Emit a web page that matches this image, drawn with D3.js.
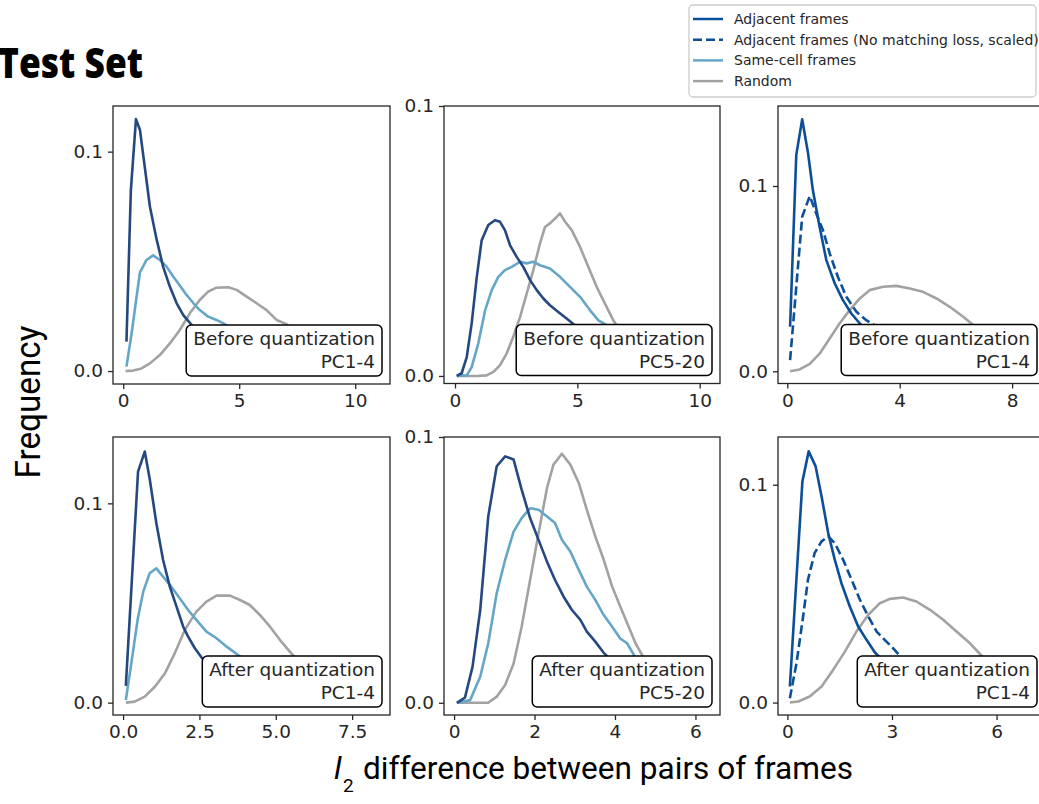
<!DOCTYPE html>
<html>
<head>
<meta charset="utf-8">
<script src="https://cdn.jsdelivr.net/npm/d3@7"></script>
<style>
  body { margin: 0; background: #fff; }
  svg { display: block; }
</style>
</head>
<body>
<script>
// series, [x, frequency]
const beforePc14Adjacent = [[0.14,0.0134],[0.33,0.0825],[0.55,0.1148],[0.72,0.110],[0.93,0.093],[1.15,0.075],[1.44,0.060],[1.72,0.0476],[2.01,0.0385],[2.30,0.031],[2.59,0.0255],[2.92,0.0214],[3.3,0.017],[4.0,0.011],[5.0,0.006],[6.0,0.003]];
const beforePc14SameCell = [[0.14,0.002],[0.36,0.017],[0.72,0.045],[1.0,0.0506],[1.29,0.0527],[1.58,0.0506],[1.87,0.0476],[2.16,0.043],[2.44,0.039],[2.73,0.0347],[3.02,0.031],[3.3,0.0278],[3.66,0.0248],[4.02,0.0233],[4.38,0.0214],[5.0,0.016],[6.0,0.01],[7.0,0.005]];
const beforePc14Random = [[0.1,0.0],[0.43,0.0002],[0.79,0.0012],[1.15,0.0035],[1.58,0.0073],[2.01,0.0126],[2.44,0.0187],[2.87,0.0263],[3.3,0.0324],[3.66,0.0362],[4.02,0.038],[4.53,0.0382],[4.89,0.037],[5.32,0.0339],[5.75,0.0309],[6.18,0.0278],[6.61,0.0233],[7.04,0.0214],[7.5,0.017],[8.5,0.010],[9.5,0.005],[10.9,0.002]];

const beforePc520Adjacent = [[0.07,0.0],[0.27,0.001],[0.48,0.007],[0.68,0.0194],[0.89,0.0367],[1.09,0.0503],[1.36,0.0559],[1.63,0.0577],[1.84,0.0571],[2.04,0.054],[2.25,0.0484],[2.52,0.0441],[2.79,0.0404],[3.07,0.0355],[3.34,0.0318],[3.61,0.0287],[3.88,0.0262],[4.22,0.0237],[4.56,0.0213],[4.9,0.0188],[5.5,0.013],[6.5,0.007],[8.0,0.002]];
const beforePc520SameCell = [[0.07,0.0],[0.48,0.0002],[0.68,0.0033],[0.95,0.012],[1.23,0.0243],[1.5,0.0318],[1.77,0.0367],[2.04,0.0392],[2.32,0.0404],[2.66,0.0423],[2.93,0.0417],[3.2,0.0423],[3.47,0.041],[3.88,0.0398],[4.29,0.0367],[4.7,0.033],[5.11,0.0293],[5.52,0.0243],[5.86,0.0206],[6.2,0.0188],[7.0,0.011],[8.5,0.004]];
const beforePc520Random = [[0.07,0.0],[0.89,0.0],[1.29,0.0002],[1.57,0.0015],[1.84,0.004],[2.11,0.0083],[2.38,0.0145],[2.66,0.0219],[2.93,0.0305],[3.2,0.0392],[3.47,0.049],[3.68,0.0552],[3.88,0.0565],[4.09,0.0583],[4.29,0.0602],[4.5,0.0571],[4.77,0.054],[5.11,0.0478],[5.45,0.0404],[5.79,0.033],[6.13,0.0268],[6.47,0.0206],[6.6,0.0188],[7.5,0.009],[9.0,0.002]];

const beforeModelAdjacent = [[0.1,0.024],[0.32,0.1168],[0.53,0.136],[0.74,0.1177],[0.91,0.0978],[1.15,0.078],[1.39,0.060],[1.69,0.0474],[1.98,0.0384],[2.28,0.0312],[2.58,0.0258],[2.81,0.0225],[3.3,0.016],[4.0,0.010],[5.0,0.005]];
const beforeModelNoMatching = [[0.1,0.006],[0.22,0.0275],[0.53,0.0834],[0.8,0.0946],[1.03,0.0852],[1.27,0.0762],[1.51,0.0636],[1.8,0.051],[2.1,0.0402],[2.46,0.0321],[2.81,0.0276],[3.17,0.0243],[3.8,0.017],[4.6,0.011],[5.5,0.006]];
const beforeModelRandom = [[0.1,0.0],[0.44,0.001],[0.8,0.004],[1.15,0.0095],[1.51,0.0177],[1.86,0.0258],[2.22,0.033],[2.58,0.0393],[2.93,0.0438],[3.41,0.0456],[3.88,0.0461],[4.36,0.0447],[4.83,0.0429],[5.31,0.0393],[5.78,0.0348],[6.26,0.0294],[6.67,0.0243],[7.3,0.017],[8.0,0.010],[8.7,0.005]];

const afterPc14Adjacent = [[0.09,0.0084],[0.49,0.1159],[0.71,0.126],[0.87,0.1125],[1.09,0.090],[1.31,0.0716],[1.53,0.0582],[1.75,0.0482],[1.97,0.0381],[2.13,0.0331],[2.35,0.0273],[2.57,0.0226],[3.0,0.016],[3.6,0.010],[4.5,0.005]];
const afterPc14SameCell = [[0.09,0.0013],[0.27,0.0197],[0.48,0.042],[0.66,0.0557],[0.87,0.0649],[1.09,0.0674],[1.31,0.0632],[1.58,0.0582],[1.86,0.0523],[2.13,0.0465],[2.4,0.0415],[2.73,0.0356],[3.06,0.0323],[3.39,0.0281],[3.66,0.0251],[3.88,0.0226],[4.5,0.016],[5.5,0.008]];
const afterPc14Random = [[0.09,0.0],[0.38,0.0005],[0.71,0.003],[1.04,0.008],[1.37,0.0147],[1.69,0.0247],[2.02,0.0365],[2.4,0.0457],[2.73,0.0507],[3.06,0.0537],[3.5,0.0537],[3.83,0.0515],[4.15,0.049],[4.48,0.044],[4.81,0.0381],[5.14,0.0314],[5.46,0.0256],[5.63,0.0226],[6.3,0.014],[7.2,0.007],[8.2,0.003]];

const afterPc520Adjacent = [[0.07,0.0],[0.27,0.0019],[0.46,0.0136],[0.65,0.0349],[0.85,0.0701],[1.06,0.089],[1.27,0.0927],[1.48,0.0915],[1.68,0.0802],[1.89,0.0695],[2.1,0.0613],[2.31,0.0531],[2.51,0.0462],[2.72,0.040],[2.93,0.0349],[3.14,0.0312],[3.3,0.0268],[3.51,0.023],[3.72,0.0188],[3.84,0.017],[4.3,0.011],[5.0,0.005]];
const afterPc520SameCell = [[0.07,0.0],[0.4,0.001],[0.65,0.0098],[0.85,0.0224],[1.06,0.0412],[1.27,0.0538],[1.48,0.0644],[1.68,0.0695],[1.89,0.0732],[2.1,0.0726],[2.31,0.0701],[2.51,0.0676],[2.68,0.0613],[2.89,0.0569],[3.1,0.050],[3.3,0.0437],[3.51,0.0387],[3.72,0.033],[3.93,0.0286],[4.13,0.0242],[4.3,0.0224],[4.51,0.017],[5.0,0.010],[5.8,0.004]];
const afterPc520Random = [[0.07,0.0],[0.85,0.0],[1.06,0.0023],[1.27,0.0067],[1.48,0.0148],[1.68,0.0286],[1.89,0.0462],[2.1,0.0638],[2.31,0.0808],[2.47,0.0896],[2.68,0.0937],[2.89,0.0896],[3.1,0.0827],[3.3,0.0726],[3.51,0.0626],[3.72,0.0538],[3.93,0.0437],[4.13,0.0362],[4.34,0.0286],[4.51,0.0224],[4.71,0.017],[5.2,0.009],[6.0,0.003]];

const afterModelAdjacent = [[0.07,0.0074],[0.43,0.1015],[0.61,0.1153],[0.81,0.1084],[0.98,0.0946],[1.17,0.0778],[1.36,0.0655],[1.55,0.0548],[1.79,0.0441],[2.03,0.0349],[2.27,0.0288],[2.51,0.023],[2.65,0.0207],[3.2,0.014],[4.0,0.008],[5.0,0.004]];
const afterModelNoMatching = [[0.07,0.002],[0.26,0.018],[0.45,0.0395],[0.59,0.0564],[0.78,0.0686],[0.98,0.074],[1.17,0.0763],[1.36,0.0732],[1.6,0.0655],[1.84,0.0564],[2.08,0.0472],[2.32,0.0395],[2.56,0.0326],[2.79,0.0288],[3.03,0.025],[3.27,0.0207],[3.8,0.015],[4.6,0.009],[5.5,0.004]];
const afterModelRandom = [[0.07,0.0],[0.31,0.0005],[0.64,0.0028],[0.98,0.0074],[1.31,0.015],[1.65,0.0234],[1.98,0.0326],[2.32,0.0403],[2.65,0.0456],[2.94,0.0476],[3.32,0.0482],[3.7,0.0464],[4.09,0.0426],[4.47,0.038],[4.85,0.0326],[5.23,0.0273],[5.62,0.0207],[6.2,0.013],[6.9,0.007]];

const yTicks = [0, 0.1];
const xTicksBefore = [0, 5, 10];
const xTicksModelBefore = [0, 4, 8];
const xTicksAfterPc14 = [0, 2.5, 5, 7.5];
const xTicksAfterPc520 = [0, 2, 4, 6];
const xTicksModelAfter = [0, 3, 6];

const legendLabels = ['Adjacent frames', 'Adjacent frames (No matching loss, scaled)', 'Same-cell frames', 'Random'];

const NAVY = '#24487f';
const BLUE = '#0c4f98';
const LIGHT = '#65a6c7';
const GRAY = '#a2a2a2';
const INK = '#262626';
const TICK_FONT = 'DejaVu Sans, sans-serif';

const panels = [
  { left: 113, top: 106, right: 390, bottom: 384, xDomain: [-0.44, 11.5], yDomain: [-0.0059, 0.1208],
    xTicks: xTicksBefore, xFmt: d3.format('d'), text: ['Before quantization', 'PC1-4'],
    lines: [
      { data: beforePc14Random, color: GRAY },
      { data: beforePc14SameCell, color: LIGHT },
      { data: beforePc14Adjacent, color: NAVY },
    ] },
  { left: 444, top: 106, right: 720, bottom: 383.5, xDomain: [-0.45, 10.83], yDomain: [-0.0028, 0.1],
    xTicks: xTicksBefore, xFmt: d3.format('d'), text: ['Before quantization', 'PC5-20'],
    lines: [
      { data: beforePc520Random, color: GRAY },
      { data: beforePc520SameCell, color: LIGHT },
      { data: beforePc520Adjacent, color: NAVY },
    ] },
  { left: 778, top: 106, right: 1045, bottom: 383.5, xDomain: [-0.33, 9.17], yDomain: [-0.0066, 0.1432],
    xTicks: xTicksModelBefore, xFmt: d3.format('d'), text: ['Before quantization', 'PC1-4'],
    lines: [
      { data: beforeModelRandom, color: GRAY },
      { data: beforeModelNoMatching, color: BLUE, dash: '9,4' },
      { data: beforeModelAdjacent, color: BLUE },
    ] },
  { left: 113, top: 437, right: 390, bottom: 715, xDomain: [-0.33, 8.74], yDomain: [-0.0062, 0.1333],
    xTicks: xTicksAfterPc14, xFmt: d3.format('.1f'), text: ['After quantization', 'PC1-4'],
    lines: [
      { data: afterPc14Random, color: GRAY },
      { data: afterPc14SameCell, color: LIGHT },
      { data: afterPc14Adjacent, color: NAVY },
    ] },
  { left: 444, top: 437, right: 720, bottom: 715, xDomain: [-0.25, 6.61], yDomain: [-0.0046, 0.1],
    xTicks: xTicksAfterPc520, xFmt: d3.format('d'), text: ['After quantization', 'PC5-20'],
    lines: [
      { data: afterPc520Random, color: GRAY },
      { data: afterPc520SameCell, color: LIGHT },
      { data: afterPc520Adjacent, color: NAVY },
    ] },
  { left: 778, top: 437, right: 1045, bottom: 715, xDomain: [-0.27, 7.39], yDomain: [-0.0057, 0.1219],
    xTicks: xTicksModelAfter, xFmt: d3.format('d'), text: ['After quantization', 'PC1-4'],
    lines: [
      { data: afterModelRandom, color: GRAY },
      { data: afterModelNoMatching, color: BLUE, dash: '9,4' },
      { data: afterModelAdjacent, color: BLUE },
    ] },
];

const svg = d3.select('body').append('svg')
  .attr('width', 1039)
  .attr('height', 804);

panels.forEach((p, i) => {
  const x = d3.scaleLinear().domain(p.xDomain).range([p.left, p.right]);
  const y = d3.scaleLinear().domain(p.yDomain).range([p.bottom, p.top]);
  const g = svg.append('g');

  g.append('clipPath').attr('id', `clip${i}`)
    .append('rect')
    .attr('x', p.left).attr('y', p.top)
    .attr('width', p.right - p.left).attr('height', p.bottom - p.top);

  const line = d3.line().x((d) => x(d[0])).y((d) => y(d[1]));
  g.append('g').attr('clip-path', `url(#clip${i})`)
    .selectAll('path')
    .data(p.lines)
    .enter()
    .append('path')
    .attr('d', (d) => line(d.data))
    .attr('fill', 'none')
    .attr('stroke', (d) => d.color)
    .attr('stroke-width', 2.6)
    .attr('stroke-linejoin', 'round')
    .attr('stroke-dasharray', (d) => d.dash || null);

  // annotation box, anchored at lower right
  const note = g.append('g');
  const txt = note.append('text')
    .attr('font-family', TICK_FONT)
    .attr('font-size', 18.5)
    .attr('fill', INK)
    .attr('text-anchor', 'end');
  const tx = p.right - 15;
  txt.selectAll('tspan').data(p.text).enter().append('tspan')
    .attr('x', tx)
    .attr('y', (d, k) => p.bottom - 39 + k * 23)
    .text((d) => d);
  const w = txt.node().getBBox().width;
  note.insert('rect', 'text')
    .attr('x', tx - w - 7).attr('y', p.bottom - 59)
    .attr('width', w + 14).attr('height', 51)
    .attr('rx', 5)
    .attr('fill', '#fff')
    .attr('stroke', '#000')
    .attr('stroke-width', 1.5);

  g.append('rect')
    .attr('x', p.left).attr('y', p.top)
    .attr('width', p.right - p.left).attr('height', p.bottom - p.top)
    .attr('fill', 'none')
    .attr('stroke', INK)
    .attr('stroke-width', 1.3);

  const xAxis = g.append('g')
    .attr('transform', `translate(0,${p.bottom})`)
    .call(d3.axisBottom(x).tickValues(p.xTicks).tickFormat(p.xFmt).tickSize(5).tickSizeOuter(0).tickPadding(5));
  const yAxis = g.append('g')
    .attr('transform', `translate(${p.left},0)`)
    .call(d3.axisLeft(y).tickValues(yTicks).tickFormat(d3.format('.1f')).tickSize(5).tickSizeOuter(0).tickPadding(5));
  [xAxis, yAxis].forEach((a) => {
    a.select('.domain').remove();
    a.selectAll('line').attr('stroke', INK).attr('stroke-width', 1.3);
    a.selectAll('text')
      .attr('font-family', TICK_FONT)
      .attr('font-size', 18.5)
      .attr('fill', INK);
  });
});

// legend
const legend = svg.append('g').attr('transform', 'translate(689,5)');
legend.append('rect')
  .attr('width', 347).attr('height', 92).attr('rx', 4)
  .attr('fill', '#fff').attr('fill-opacity', 0.9)
  .attr('stroke', '#cccccc').attr('stroke-width', 1.3);
const legendStyles = [
  { color: BLUE, dash: null },
  { color: BLUE, dash: '9,4' },
  { color: LIGHT, dash: null },
  { color: GRAY, dash: null },
];
const entry = legend.selectAll('.entry')
  .data(legendLabels)
  .enter()
  .append('g')
  .attr('transform', (d, k) => `translate(0,${14 + k * 20.7})`);
entry.append('line')
  .attr('x1', 4).attr('x2', 34)
  .attr('stroke', (d, k) => legendStyles[k].color)
  .attr('stroke-width', 2.5)
  .attr('stroke-dasharray', (d, k) => legendStyles[k].dash);
entry.append('text')
  .attr('x', 45).attr('dy', '0.35em')
  .attr('font-family', TICK_FONT)
  .attr('font-size', 14)
  .attr('fill', INK)
  .text((d) => d);

// titles
svg.append('text')
  .attr('x', -2).attr('y', 78)
  .attr('font-family', 'Open Sans, Liberation Sans, sans-serif')
  .attr('font-weight', 800)
  .attr('font-size', 42)
  .attr('textLength', 145)
  .attr('lengthAdjust', 'spacingAndGlyphs')
  .text('Test Set');

svg.append('text')
  .attr('transform', 'translate(40,402) rotate(-90)')
  .attr('text-anchor', 'middle')
  .attr('font-family', 'Liberation Sans Narrow, Roboto, sans-serif')
  .attr('font-size', 35)
  .attr('textLength', 153)
  .attr('lengthAdjust', 'spacingAndGlyphs')
  .text('Frequency');

const xl = svg.append('text')
  .attr('y', 779)
  .attr('font-family', 'Liberation Sans Narrow, Roboto, sans-serif')
  .attr('font-size', 32);
xl.append('tspan').attr('x', 334).attr('font-style', 'italic').text('l');
xl.append('tspan').attr('x', 343).attr('dy', 13).attr('font-size', 19).text('2');
xl.append('tspan').attr('x', 363).attr('dy', -13)
  .attr('textLength', 490).attr('lengthAdjust', 'spacingAndGlyphs')
  .text('difference between pairs of frames');
</script>
</body>
</html>
